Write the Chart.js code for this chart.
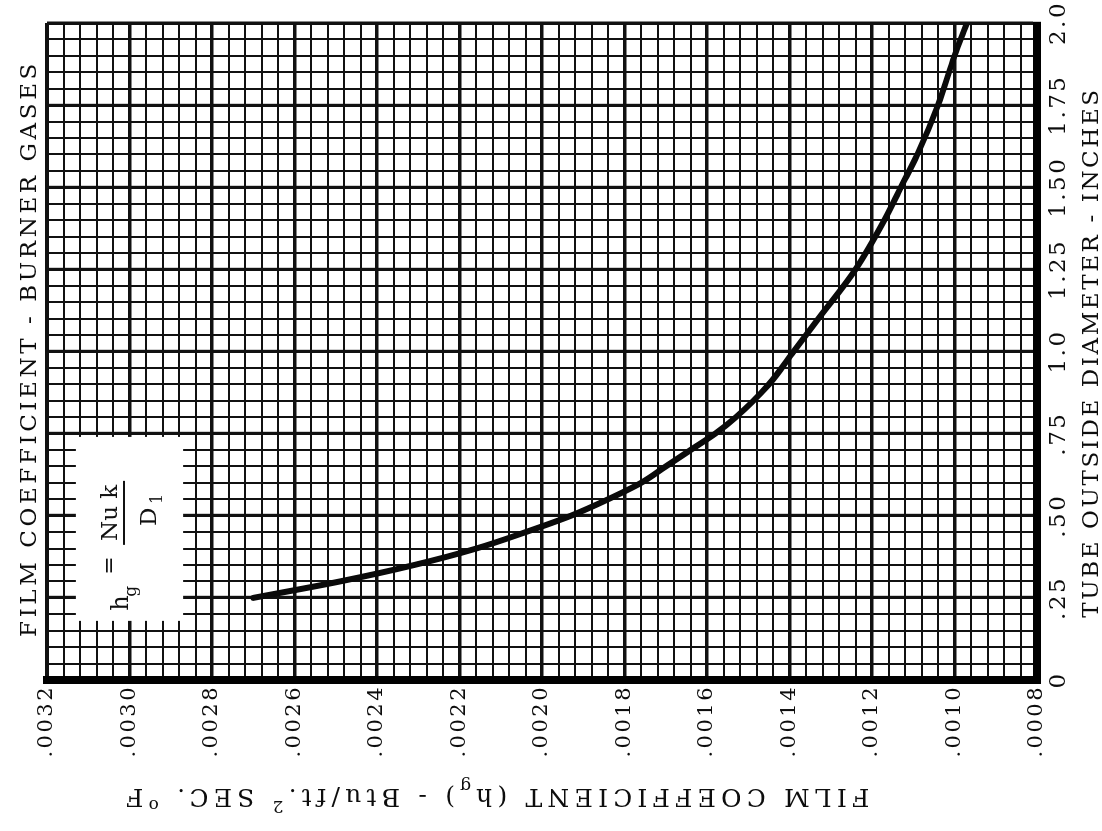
<!DOCTYPE html>
<html>
<head>
<meta charset="utf-8">
<script src="https://cdn.jsdelivr.net/npm/chart.js@4.4.1/dist/chart.umd.min.js"></script>
<style>
  html, body { margin: 0; padding: 0; background: #fff; }
  body { width: 1102px; height: 831px; overflow: hidden; position: relative; }
  /* the chart is drawn upright and the whole sheet is turned a quarter turn, like the scanned page */
  .sheet { position: absolute; left: 0; top: 0; width: 831px; height: 1102px;
           transform-origin: 0 0; transform: translateY(831px) rotate(-90deg); }
</style>
</head>
<body>
<div class="sheet"><canvas id="chart" width="831" height="1102"></canvas></div>
<script>
// tube outside diameter (inches) and film coefficient
const diameters = [0.25, 0.30, 0.35, 0.40, 0.45, 0.50, 0.55, 0.60, 0.65, 0.70, 0.75, 0.80,
                   0.90, 1.00, 1.10, 1.25, 1.40, 1.50, 1.60, 1.75, 1.90, 2.00];
const filmCoeff = [0.00270, 0.00249, 0.00231, 0.00216, 0.00204, 0.00193, 0.00184, 0.00176,
                   0.00170, 0.00164, 0.00158, 0.00153, 0.00145, 0.00139, 0.00133, 0.00124,
                   0.00117, 0.00113, 0.00109, 0.00104, 0.00100, 0.00097];

const diameterLabels = ['0', '.25', '.50', '.75', '1.0', '1.25', '1.50', '1.75', '2.0'];
const coeffLabels = ['.0008', '.0010', '.0012', '.0014', '.0016', '.0018', '.0020',
                     '.0022', '.0024', '.0026', '.0028', '.0030', '.0032'];

const chartTitle = 'FILM COEFFICIENT - BURNER GASES';
const diameterTitle = 'TUBE OUTSIDE DIAMETER - INCHES';

// formula box corners in data units (diameter, coefficient)
const formulaBox = { d: [0.18, 0.74], h: [0.00313, 0.00287] };

const FONT = '"DejaVu Serif", serif';

function isMajor(value, step) {
    return Math.round(value / step) % 5 === 0;
}

// draws text runs (with sub/superscripts) centred on 0 along the run
function drawRuns(ctx, runs, spacing) {
    let total = 0;
    runs.forEach(r => {
        ctx.font = r.size + 'px ' + FONT;
        ctx.letterSpacing = spacing + 'px';
        r.w = ctx.measureText(r.text).width;
        total += r.w;
    });
    let pos = -total / 2;
    runs.forEach(r => {
        ctx.font = r.size + 'px ' + FONT;
        ctx.letterSpacing = spacing + 'px';
        ctx.fillText(r.text, pos, r.shift || 0);
        pos += r.w;
    });
}

const sheetText = {
    id: 'sheetText',
    beforeDraw(chart) {
        chart.ctx.letterSpacing = '2.5px';
    },
    beforeDatasetsDraw(chart) {
        const { ctx, scales: { x, y } } = chart;
        const x0 = x.getPixelForValue(formulaBox.d[0]);
        const x1 = x.getPixelForValue(formulaBox.d[1]);
        const y0 = y.getPixelForValue(formulaBox.h[0]);
        const y1 = y.getPixelForValue(formulaBox.h[1]);
        ctx.save();
        ctx.fillStyle = '#fff';
        ctx.fillRect(x0, y0, x1 - x0, y1 - y0);
        ctx.fillStyle = '#111';
        ctx.strokeStyle = '#111';
        ctx.letterSpacing = '0px';
        ctx.textBaseline = 'alphabetic';
        ctx.textAlign = 'left';
        ctx.font = '24px ' + FONT;
        ctx.fillText('h', x0 + 10, y0 + 52);
        ctx.font = '17px ' + FONT;
        ctx.fillText('g', x0 + 24, y0 + 60);
        ctx.font = '22px ' + FONT;
        ctx.fillText('=', x0 + 46, y0 + 40);
        ctx.beginPath();
        ctx.lineWidth = 2;
        ctx.moveTo(x0 + 76, y0 + 48);
        ctx.lineTo(x0 + 140, y0 + 48);
        ctx.stroke();
        ctx.textAlign = 'center';
        ctx.font = '23px ' + FONT;
        ctx.fillText('Nu k', x0 + 108, y0 + 41);
        ctx.fillText('D', x0 + 104, y0 + 80);
        ctx.font = '16px ' + FONT;
        ctx.fillText('1', x0 + 122, y0 + 86);
        ctx.restore();
    },
    afterDraw(chart) {
        const { ctx, chartArea } = chart;
        const midX = (chartArea.left + chartArea.right) / 2;
        ctx.save();
        ctx.fillStyle = '#0d0d0d';
        ctx.textBaseline = 'alphabetic';
        ctx.textAlign = 'left';

        ctx.save();
        ctx.translate(midX + 3, 36);
        drawRuns(ctx, [{ text: chartTitle, size: 23 }], 3.6);
        ctx.restore();

        ctx.save();
        ctx.translate(midX - 1, 1098);
        drawRuns(ctx, [{ text: diameterTitle, size: 23 }], 2.6);
        ctx.restore();

        // coefficient axis title, printed upside down on the sheet
        ctx.save();
        ctx.translate(42, 495);
        ctx.rotate(-Math.PI / 2);
        drawRuns(ctx, [
            { text: 'FILM COEFFICIENT (h', size: 25 },
            { text: 'g', size: 17, shift: 8 },
            { text: ') - Btu/ft.', size: 25 },
            { text: '2', size: 17, shift: -12 },
            { text: ' SEC. ', size: 25 },
            { text: 'o', size: 17, shift: -11 },
            { text: 'F', size: 25 }
        ], 5.2);
        ctx.restore();

        ctx.restore();
    }
};

new Chart(document.getElementById('chart'), {
    type: 'line',
    data: {
        datasets: [{
            data: diameters.map((d, i) => ({ x: d, y: filmCoeff[i] })),
            borderColor: '#0a0a0a',
            borderWidth: 6,
            borderCapStyle: 'round',
            pointRadius: 0,
            cubicInterpolationMode: 'monotone'
        }]
    },
    options: {
        responsive: false,
        animation: false,
        layout: { padding: { top: 47, right: 23, left: 0, bottom: 0 } },
        plugins: { legend: { display: false }, tooltip: { enabled: false } },
        scales: {
            x: {
                type: 'linear',
                min: 0,
                max: 2,
                afterFit(scale) {
                    scale.height = 65;
                    scale.paddingLeft = 0;
                    scale.paddingRight = 0;
                },
                grid: {
                    drawTicks: false,
                    color: '#111',
                    lineWidth: ctx => {
                        const v = ctx.tick.value;
                        if (v >= 2) return 3.5;
                        return isMajor(v, 0.05) ? 3.2 : 2;
                    }
                },
                border: { color: '#000', width: 8 },
                ticks: {
                    stepSize: 0.05,
                    autoSkip: false,
                    maxRotation: 0,
                    padding: 8,
                    color: '#0d0d0d',
                    font: { family: FONT, size: 23 },
                    callback: value => {
                        const k = Math.round(value / 0.05);
                        return k % 5 === 0 ? diameterLabels[k / 5] : '';
                    }
                }
            },
            y: {
                type: 'linear',
                min: 0.0008,
                max: 0.0032,
                afterFit(scale) {
                    scale.width = 151;
                    scale.paddingTop = 0;
                    scale.paddingBottom = 0;
                },
                grid: {
                    drawTicks: false,
                    color: '#111',
                    lineWidth: ctx => {
                        const v = ctx.tick.value;
                        if (v >= 0.0032 - 1e-9) return 4;
                        return isMajor(v, 0.00004) ? 3.4 : 2;
                    }
                },
                border: { color: '#000', width: 8 },
                ticks: {
                    stepSize: 0.00004,
                    autoSkip: false,
                    padding: 5,
                    color: '#0d0d0d',
                    font: { family: FONT, size: 21 },
                    callback: value => {
                        const k = Math.round(value / 0.00004);
                        return k % 5 === 0 ? coeffLabels[(k - 20) / 5] : '';
                    }
                }
            }
        }
    },
    plugins: [sheetText]
});
</script>
</body>
</html>
